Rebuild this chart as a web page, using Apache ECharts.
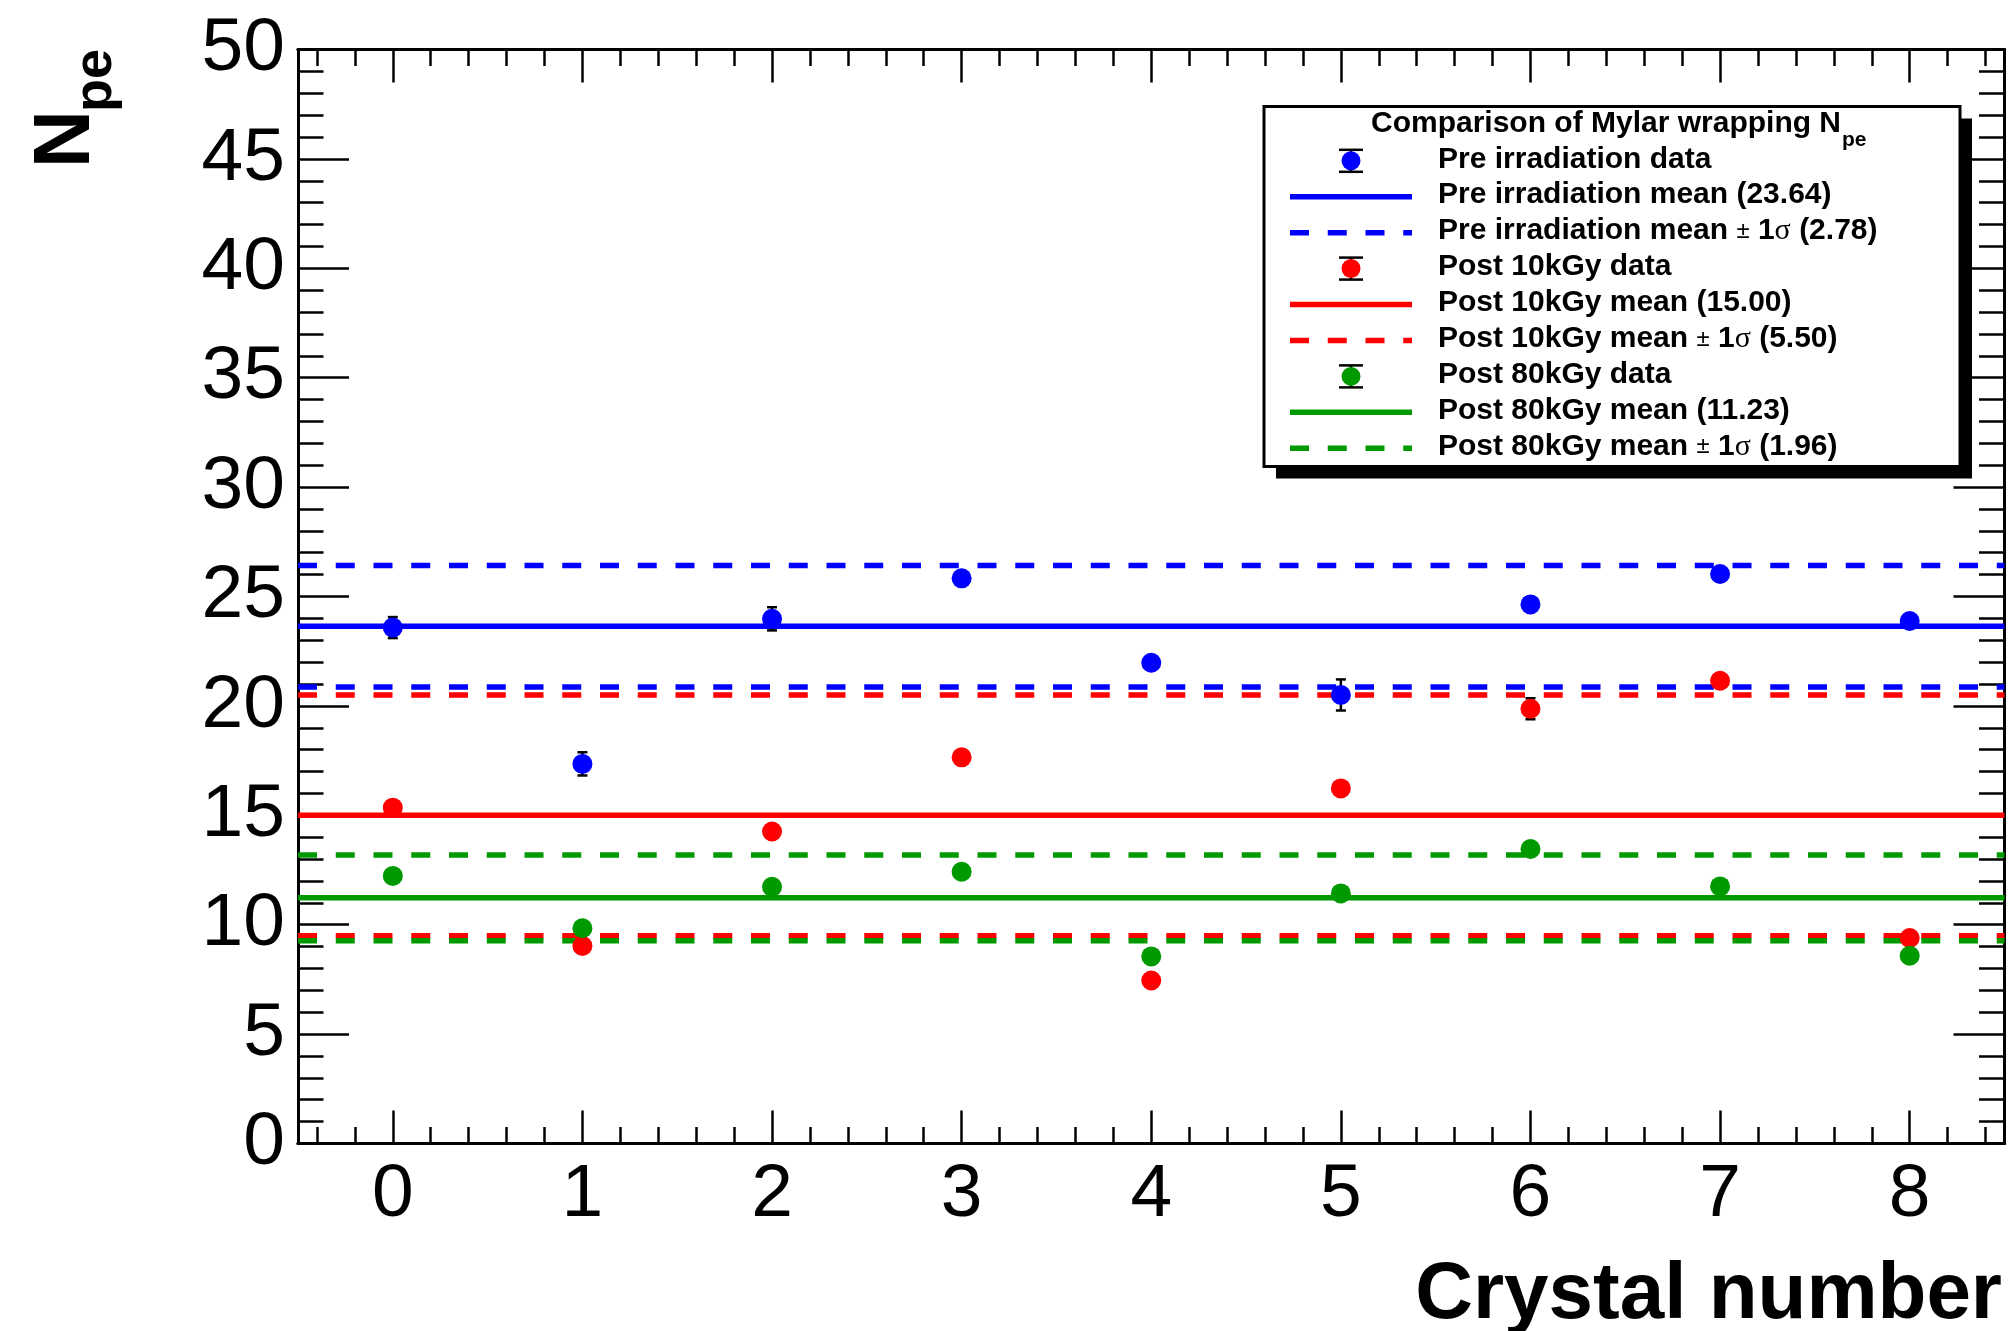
<!DOCTYPE html>
<html>
<head>
<meta charset="utf-8">
<script src="https://cdn.jsdelivr.net/npm/echarts@6/dist/echarts.min.js"></script>
<style>
html,body{margin:0;padding:0;background:#fff;}
#chart{width:2013px;height:1331px;}
</style>
</head>
<body>
<div id="chart"></div>
<script>
// ---------------- data ----------------
const crystals = [0, 1, 2, 3, 4, 5, 6, 7, 8];

const preData   = [23.58, 17.35, 23.98, 25.83, 21.97, 20.50, 24.64, 26.03, 23.88];
const preErr    = [0.48, 0.53, 0.53, 0.30, 0.30, 0.71, 0.30, 0.30, 0.30];

const post10Data = [15.35, 9.03, 14.26, 17.65, 7.45, 16.23, 19.87, 21.15, 9.39];
const post10Err  = [0.30, 0.30, 0.30, 0.30, 0.30, 0.30, 0.48, 0.30, 0.30];

const post80Data = [12.23, 9.84, 11.73, 12.42, 8.55, 11.43, 13.46, 11.75, 8.58];
const post80Err  = [0.30, 0.30, 0.30, 0.30, 0.30, 0.30, 0.30, 0.30, 0.30];

const groupNames = ['Pre irradiation', 'Post 10kGy', 'Post 80kGy'];
const meanVals   = [23.64, 15.00, 11.23];
const sigmaVals  = [2.78, 5.50, 1.96];
const groupColors = ['#0000ff', '#ff0000', '#009900'];

const xMajorTicks = [0, 1, 2, 3, 4, 5, 6, 7, 8];
const xRange = [-0.5, 8.5];
const yRange = [0, 50];
const yMajorStep = 5;

const xTitle = 'Crystal number';
const yTitleMain = 'N';
const yTitleSub = 'pe';
const legendTitleMain = 'Comparison of Mylar wrapping N';
const legendTitleSub = 'pe';

// minor ticks on x every 0.2 (axis decoration)
const xMinorTicks = [];
for (let k = -2; k <= 42; k++) { if (k % 5 !== 0) xMinorTicks.push(+(k * 0.2).toFixed(1)); }

// ---------------- styles ----------------
const FONT = "'Liberation Sans', Arial, Helvetica, sans-serif";
const SERIF = "'Liberation Serif', 'DejaVu Serif', serif";
const LINE_W = 5.5;
const DASH = [19, 18.75];
const TICK_FONT = 75;

function xAx(pos, ticks, len, withLabels) {
  return {
    type: 'value', min: xRange[0], max: xRange[1], position: pos,
    axisLine: { show: true, onZero: false, lineStyle: { color: '#000', width: 3 } },
    axisTick: { show: true, inside: true, length: len, customValues: ticks,
      lineStyle: { color: '#000', width: 2.5 } },
    axisLabel: withLabels ? { show: true, customValues: xMajorTicks, fontSize: TICK_FONT,
      fontFamily: FONT, color: '#000', margin: 14 } : { show: false },
    splitLine: { show: false }, minorTick: { show: false }
  };
}
function yAx(pos, withLabels) {
  return {
    type: 'value', min: yRange[0], max: yRange[1], interval: yMajorStep, position: pos,
    axisLine: { show: true, onZero: false, lineStyle: { color: '#000', width: 3 } },
    axisTick: { show: true, inside: true, length: 51, lineStyle: { color: '#000', width: 2.5 } },
    minorTick: { show: true, splitNumber: 5, length: 25.5, lineStyle: { color: '#000', width: 2.5 } },
    axisLabel: withLabels ? { show: true, fontSize: TICK_FONT, fontFamily: FONT, color: '#000', margin: 13,
      padding: [14, 0, 0, 0] } : { show: false },
    splitLine: { show: false }, minorSplitLine: { show: false }
  };
}

function meanLine(val, color, dashed) {
  return {
    type: 'line', xAxisIndex: 0, yAxisIndex: 0,
    data: [[xRange[0], val], [xRange[1], val]],
    symbol: 'none', showSymbol: false, silent: true, z: 2,
    lineStyle: { color: color, width: LINE_W, type: dashed ? DASH : 'solid', cap: 'butt' }
  };
}

function errSeries(vals, errs) {
  return {
    type: 'custom', xAxisIndex: 0, yAxisIndex: 0, z: 3, silent: true,
    data: crystals.map((c, i) => [c, vals[i], errs[i]]),
    renderItem: function (params, api) {
      const x = api.value(0), y = api.value(1), e = api.value(2);
      const t = api.coord([x, y + e]);
      const b = api.coord([x, y - e]);
      const hw = 5;
      const st = { stroke: '#000', lineWidth: 2.5 };
      return {
        type: 'group', children: [
          { type: 'line', shape: { x1: t[0], y1: t[1], x2: b[0], y2: b[1] }, style: st },
          { type: 'line', shape: { x1: t[0] - hw, y1: t[1], x2: t[0] + hw, y2: t[1] }, style: st },
          { type: 'line', shape: { x1: b[0] - hw, y1: b[1], x2: b[0] + hw, y2: b[1] }, style: st }
        ]
      };
    }
  };
}

function pointSeries(vals, color) {
  return {
    type: 'scatter', xAxisIndex: 0, yAxisIndex: 0, z: 4, silent: true,
    data: crystals.map((c, i) => [c, vals[i]]),
    symbol: 'circle', symbolSize: 20,
    itemStyle: { color: color, opacity: 1 }
  };
}

const dataSets = [[preData, preErr], [post10Data, post10Err], [post80Data, post80Err]];

const series = [];
for (let g = 0; g < 3; g++) {
  series.push(meanLine(meanVals[g], groupColors[g], false));
  series.push(meanLine(meanVals[g] + sigmaVals[g], groupColors[g], true));
  series.push(meanLine(meanVals[g] - sigmaVals[g], groupColors[g], true));
}
for (let g = 0; g < 3; g++) series.push(errSeries(dataSets[g][0], dataSets[g][1]));
for (let g = 0; g < 3; g++) series.push(pointSeries(dataSets[g][0], groupColors[g]));

// ---------------- legend (graphic) ----------------
const LG = { x: 1264, y: 106.5, w: 696, h: 360, shadow: 12 };
const rowY0 = 159.3, rowStep = 35.93;
const symX1 = 1290, symX2 = 1412, symCX = 1351, textX = 1438;
const legendEls = [];
legendEls.push({ type: 'rect', shape: { x: LG.x + LG.shadow, y: LG.y + LG.shadow, width: LG.w, height: LG.h }, style: { fill: '#000' }, z: 100 });
legendEls.push({ type: 'rect', shape: { x: LG.x, y: LG.y, width: LG.w, height: LG.h }, style: { fill: '#fff', stroke: '#000', lineWidth: 3 }, z: 101 });
legendEls.push({ type: 'text', x: 1371, y: 124, z: 102, style: { text: legendTitleMain, font: 'bold 30px ' + FONT, fill: '#000', align: 'left', verticalAlign: 'middle' } });
legendEls.push({ type: 'text', x: 1842, y: 140, z: 102, style: { text: legendTitleSub, font: 'bold 21px ' + FONT, fill: '#000', align: 'left', verticalAlign: 'middle' } });

for (let g = 0; g < 3; g++) {
  const col = groupColors[g];
  const rows = [
    { kind: 'marker', rich: '{b|' + groupNames[g] + ' data}' },
    { kind: 'solid', rich: '{b|' + groupNames[g] + ' mean (' + meanVals[g].toFixed(2) + ')}' },
    { kind: 'dashed', rich: '{b|' + groupNames[g] + ' mean }{pm|\u00b1}{b| 1}{sg|\u03c3}{b| (' + sigmaVals[g].toFixed(2) + ')}' }
  ];
  rows.forEach((r, k) => {
    const yy = rowY0 + rowStep * (g * 3 + k);
    const sy = yy + 1.5;
    if (r.kind === 'marker') {
      const st = { stroke: '#000', lineWidth: 2.5 };
      legendEls.push({ type: 'line', z: 102, shape: { x1: symCX, y1: sy - 11, x2: symCX, y2: sy + 11 }, style: st });
      legendEls.push({ type: 'line', z: 102, shape: { x1: symCX - 12, y1: sy - 11, x2: symCX + 12, y2: sy - 11 }, style: st });
      legendEls.push({ type: 'line', z: 102, shape: { x1: symCX - 12, y1: sy + 11, x2: symCX + 12, y2: sy + 11 }, style: st });
      legendEls.push({ type: 'circle', z: 103, shape: { cx: symCX, cy: sy, r: 9.5 }, style: { fill: col } });
    } else {
      legendEls.push({ type: 'line', z: 102, shape: { x1: symX1, y1: sy, x2: symX2, y2: sy },
        style: { stroke: col, lineWidth: LINE_W, lineDash: r.kind === 'dashed' ? DASH : null } });
    }
    legendEls.push({ type: 'text', z: 102, x: textX, y: yy, style: {
      text: r.rich, align: 'left', verticalAlign: 'middle', fill: '#000',
      rich: {
        b: { font: 'bold 30px ' + FONT, fill: '#000' },
        pm: { font: 'normal 24px ' + FONT, fill: '#000' },
        sg: { font: 'normal 30px ' + SERIF, fill: '#000' }
      }
    } });
  });
}

// axis titles
const titleEls = [
  { type: 'text', x: 2002, y: 1296, z: 50, style: { text: xTitle, font: 'bold 80px ' + FONT, fill: '#000', align: 'right', verticalAlign: 'middle' } },
  { type: 'text', x: 67, y: 168, rotation: Math.PI / 2, z: 50, style: { text: yTitleMain, font: 'bold 80px ' + FONT, fill: '#000', align: 'left', verticalAlign: 'middle' } },
  { type: 'text', x: 96, y: 112, rotation: Math.PI / 2, z: 50, style: { text: yTitleSub, font: 'bold 54px ' + FONT, fill: '#000', align: 'left', verticalAlign: 'middle' } }
];

const chart = echarts.init(document.getElementById('chart'), null, { renderer: 'canvas', width: 2013, height: 1331 });
chart.setOption({
  animation: false,
  backgroundColor: '#fff',
  grid: { left: 298, right: 8.5, top: 49.5, bottom: 187.5, containLabel: false },
  xAxis: [
    xAx('bottom', xMajorTicks, 33, true),
    xAx('bottom', xMinorTicks, 16.5, false),
    xAx('top', xMajorTicks, 33, false),
    xAx('top', xMinorTicks, 16.5, false)
  ],
  yAxis: [yAx('left', true), yAx('right', false)],
  series: series,
  graphic: { elements: titleEls.concat(legendEls) }
});
</script>
</body>
</html>
